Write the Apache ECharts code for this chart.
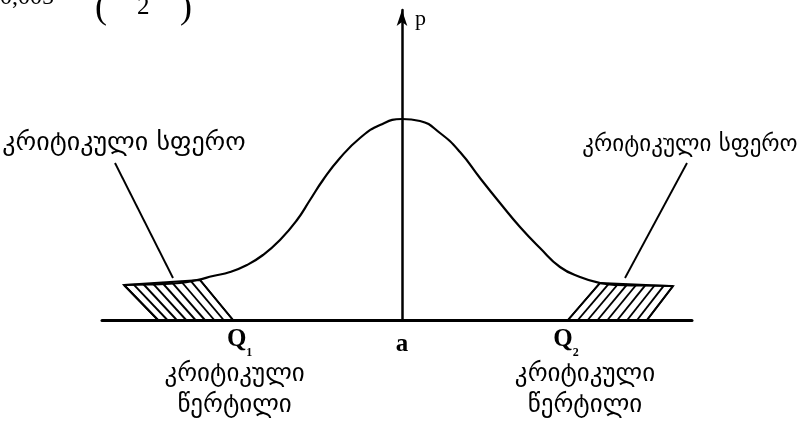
<!DOCTYPE html>
<html>
<head>
<meta charset="utf-8">
<script src="https://cdn.jsdelivr.net/npm/echarts@6/dist/echarts.min.js"></script>
<style>
  html, body { margin: 0; padding: 0; background: #fff; }
  #chart { width: 799px; height: 426px; }
</style>
</head>
<body>
<div id="chart"></div>
<script>
// Density curve: x in standard-deviation units around the mean a, p = curve height
const curveX = [-3.475, -3.15, -2.775, -2.5625, -2.3625, -2.15, -1.9375, -1.7375, -1.525, -1.3125,
                -1.15, -0.9875, -0.775, -0.525, -0.275, 0, 0.225, 0.475, 0.725, 0.975,
                1.225, 1.475, 1.725, 1.975, 2.225, 2.475, 2.6875, 2.975, 3.3875];
const curveP = [0.35, 0.355, 0.37, 0.40, 0.44, 0.48, 0.55, 0.65, 0.80, 1.00,
                1.20, 1.40, 1.62, 1.82, 1.95, 2.01, 1.99, 1.87, 1.68, 1.42,
                1.17, 0.93, 0.72, 0.53, 0.43, 0.37, 0.35, 0.345, 0.34];

// Critical regions (corners: top-left, top-right, bottom-right, bottom-left)
const leftRegion  = [[-3.475, 0.35], [-2.525, 0.40], [-2.1125, 0], [-3.05, 0]];
const rightRegion = [[2.475, 0.37], [3.3875, 0.34], [3.0625, 0], [2.075, 0]];
const hatchLines = 9;

// Leader lines from the region captions down to the tails
const leftLeader  = [[-3.5875, 1.57], [-2.8625, 0.42]];
const rightLeader = [[3.5625, 1.57], [2.7875, 0.42]];
const regionCaption = 'კრიტიკული სფერო';

// Ticks on the horizontal axis
const tickValues = [-2.03, 0, 2.05];
const tickNames  = ['Q1', 'a', 'Q2'];
const pointCaption = ['კრიტიკული', 'წერტილი'];

const xMin = -3.75, xMax = 3.625, yMax = 3.1;

const GEO = '"DejaVu Sans", sans-serif';
const SERIF = '"Liberation Serif", "Times New Roman", serif';

const chart = echarts.init(document.getElementById('chart'), null, { renderer: 'canvas' });

function lerp(a, b, t) { return [a[0] + (b[0] - a[0]) * t, a[1] + (b[1] - a[1]) * t]; }

function tickFormatter(v) {
  const i = tickValues.findIndex(t => Math.abs(t - v) < 1e-6);
  if (i < 0) return '';
  const name = tickNames[i];
  if (name === 'a') return '{a|a}';
  const g = i === 0 ? 'gl' : 'gr';
  return '{q|Q}{sub|' + name.slice(1) + '}\n{' + g + '|' + pointCaption[0] + '}\n{' + g + '|' + pointCaption[1] + '}';
}

const regions = [leftRegion, rightRegion];

const captionStyle = { fontFamily: GEO, fontSize: 25, color: '#000', lineHeight: 31 };

function leaderSeries(points, fontSize, offset) {
  return {
    type: 'line',
    data: [
      { value: points[0], label: { show: true } },
      { value: points[1] }
    ],
    symbol: 'circle',
    symbolSize: 1,
    showSymbol: true,
    itemStyle: { color: 'rgba(0,0,0,0)' },
    lineStyle: { color: '#000', width: 1.9 },
    label: {
      position: 'top', distance: 6, offset: offset,
      formatter: regionCaption, fontFamily: GEO, fontSize: fontSize, color: '#000'
    }
  };
}

const option = {
  backgroundColor: '#fff',
  animation: false,
  grid: { left: 102, right: 107, top: 10, bottom: 106, containLabel: false },
  xAxis: {
    type: 'value', min: xMin, max: xMax,
    axisLine: { show: true, onZero: true, lineStyle: { color: '#000', width: 3 } },
    axisTick: { show: false },
    splitLine: { show: false },
    axisLabel: {
      show: true,
      customValues: tickValues,
      formatter: tickFormatter,
      margin: 1,
      color: '#000',
      align: 'center',
      rich: {
        q:   { fontFamily: SERIF, fontSize: 25, fontWeight: 'bold', color: '#000', lineHeight: 38 },
        sub: { fontFamily: SERIF, fontSize: 12, fontWeight: 'bold', color: '#000', lineHeight: 26, verticalAlign: 'bottom' },
        a:   { fontFamily: SERIF, fontSize: 25, fontWeight: 'bold', color: '#000', lineHeight: 48 },
        gl:  Object.assign({ padding: [0, 10, 0, 0] }, captionStyle),
        gr:  Object.assign({ padding: [0, 0, 0, 38] }, captionStyle)
      }
    }
  },
  yAxis: {
    type: 'value', min: 0, max: yMax,
    axisLine: { show: true, onZero: true, symbol: ['none', 'arrow'], symbolSize: [8, 16], lineStyle: { color: '#000', width: 2.5 } },
    axisTick: { show: false },
    splitLine: { show: false },
    axisLabel: { show: false },
    name: 'p',
    nameLocation: 'end',
    nameGap: -20,
    nameTextStyle: { fontFamily: SERIF, fontSize: 22, color: '#000', align: 'left', padding: [0, 0, 0, 13] }
  },
  series: [
    {
      type: 'line',
      data: curveX.map((x, i) => [x, curveP[i]]),
      smooth: 0.5,
      showSymbol: false,
      lineStyle: { color: '#000', width: 2.2 },
      z: 3
    },
    {
      type: 'custom',
      data: [[0], [1]],
      renderItem: function (params, api) {
        const r = regions[params.dataIndex];
        const px = r.map(p => api.coord(p));
        const children = [{
          type: 'polygon',
          shape: { points: px },
          style: { fill: 'none', stroke: '#000', lineWidth: 1.9 }
        }];
        for (let i = 0; i < hatchLines; i++) {
          const t = i / (hatchLines - 1);
          const top = lerp(px[0], px[1], t);
          const bot = lerp(px[3], px[2], t);
          children.push({
            type: 'line',
            shape: { x1: top[0], y1: top[1], x2: bot[0], y2: bot[1] },
            style: { stroke: '#000', lineWidth: 1.9 }
          });
        }
        return { type: 'group', children: children };
      },
      z: 2
    },
    leaderSeries(leftLeader, 26, [9, 0]),
    leaderSeries(rightLeader, 23, [3, 0])
  ],
  graphic: [
    { type: 'text', left: 0, top: -14, style: { text: '0,005', font: '24px ' + SERIF, fill: '#000' } },
    { type: 'text', left: 95, top: -9, style: { text: '(', font: '36px ' + SERIF, fill: '#000' } },
    { type: 'text', left: 137, top: -5, style: { text: '2', font: '25px ' + SERIF, fill: '#000' } },
    { type: 'text', left: 180, top: -9, style: { text: ')', font: '36px ' + SERIF, fill: '#000' } }
  ]
};

chart.setOption(option);
</script>
</body>
</html>
